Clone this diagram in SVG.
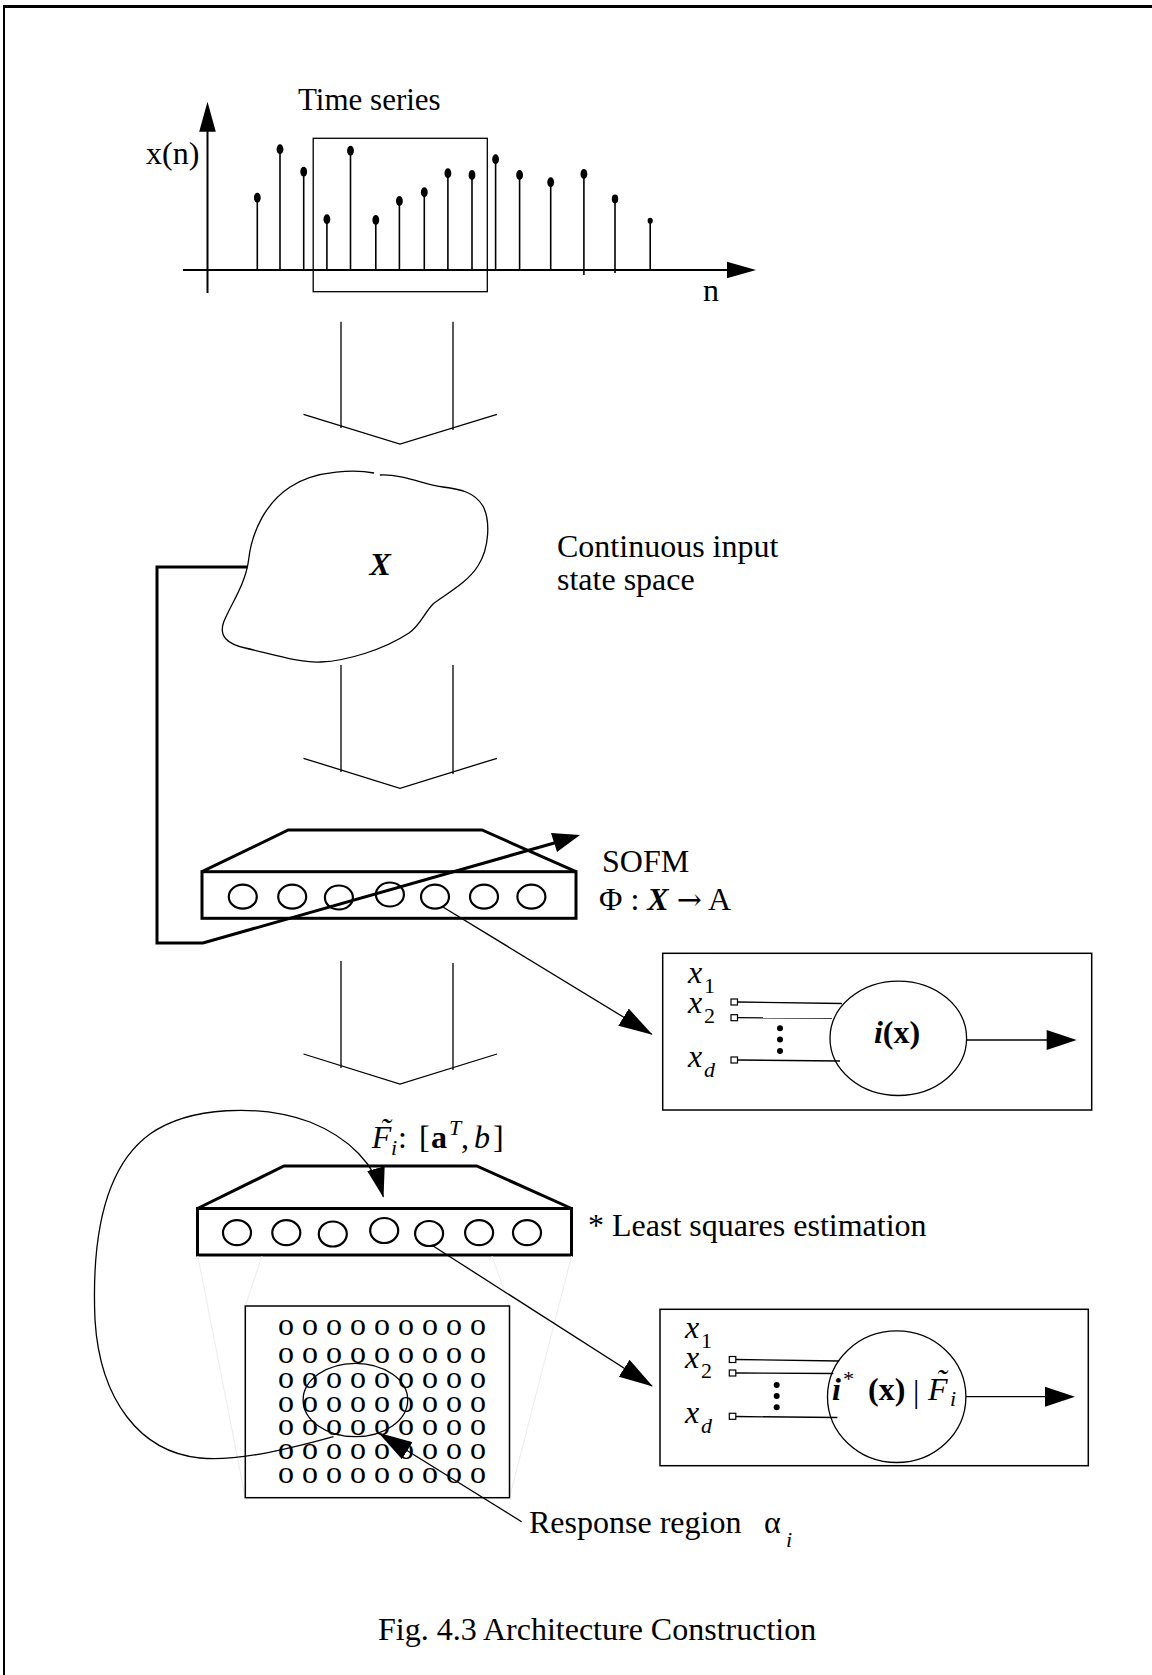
<svg xmlns="http://www.w3.org/2000/svg" width="1152" height="1675" viewBox="0 0 1152 1675">
  <style>
    .t { font-family: "Liberation Serif", "Times New Roman", serif; font-size: 32px; fill: #000; }
    .it { font-style: italic; }
    .b { font-weight: bold; }
    .sm { font-size: 22px; }
    .arr { font-family: "DejaVu Serif", "Liberation Serif", serif; font-size: 30px; }
    .ln { stroke: #000; fill: none; stroke-width: 1.3; }
    .th { stroke: #000; fill: none; stroke-width: 3; }
    .ax { stroke: #000; fill: none; stroke-width: 2; }
    .faint { stroke: #ececec; fill: none; stroke-width: 1; }
    .dot { fill: #000; }
    .unit { fill: #fff; stroke: #000; stroke-width: 1.5; }
    .pin { fill: #fff; stroke: #000; stroke-width: 1.2; }
  </style>
  <defs>
    <marker id="head" viewBox="0 0 34 20" markerWidth="34" markerHeight="20" refX="33" refY="10" orient="auto" markerUnits="userSpaceOnUse">
      <path d="M0,0 L34,10 L0,20 z" fill="#000"/>
    </marker>
    <marker id="headS" viewBox="0 0 30 18" markerWidth="30" markerHeight="18" refX="29" refY="9" orient="auto" markerUnits="userSpaceOnUse">
      <path d="M0,0 L30,9 L0,18 z" fill="#000"/>
    </marker>
  </defs>

  <rect x="0" y="0" width="1152" height="1675" fill="#fff"/>

  <!-- page frame (top and left rules) -->
  <line x1="4" y1="6.5" x2="1152" y2="6.5" stroke="#000" stroke-width="3"/>
  <line x1="4" y1="5" x2="4" y2="1675" stroke="#000" stroke-width="2"/>

  <!-- time series plot -->
  <g id="time-series">
    <text class="t" x="298" y="110" style="font-size:31px">Time series</text>
    <text class="t" x="146" y="164">x(n)</text>
    <text class="t" x="703" y="301">n</text>
    <line class="ax" x1="207.5" y1="128" x2="207.5" y2="293"/>
    <polygon points="207.5,101.7 199.2,131.7 215.8,131.7" fill="#000"/>
    <line class="ax" x1="183" y1="270" x2="730" y2="270"/>
    <polygon points="756,270 727,261.7 727,278.3" fill="#000"/>
    <g stroke="#000" stroke-width="1.6">
      <line x1="257.3" y1="197.7" x2="257.3" y2="270"/>
      <line x1="280" y1="149.3" x2="280" y2="270"/>
      <line x1="303.7" y1="171.7" x2="303.7" y2="270"/>
      <line x1="326.9" y1="219.3" x2="326.9" y2="270"/>
      <line x1="350.5" y1="150.7" x2="350.5" y2="270"/>
      <line x1="375.8" y1="220" x2="375.8" y2="270"/>
      <line x1="399.4" y1="201" x2="399.4" y2="270"/>
      <line x1="424.3" y1="192.3" x2="424.3" y2="270"/>
      <line x1="447.9" y1="173.3" x2="447.9" y2="270"/>
      <line x1="472" y1="175" x2="472" y2="270"/>
      <line x1="495.6" y1="159.3" x2="495.6" y2="270"/>
      <line x1="519.6" y1="175" x2="519.6" y2="270"/>
      <line x1="550.7" y1="182.3" x2="550.7" y2="270"/>
      <line x1="583.9" y1="174" x2="583.9" y2="275"/>
      <line x1="615" y1="199" x2="615" y2="273"/>
      <line x1="650.2" y1="220.7" x2="650.2" y2="270"/>
    </g>
    <g class="dot">
      <ellipse cx="257.3" cy="197.7" rx="3.4" ry="5"/>
      <ellipse cx="280" cy="149.3" rx="3.4" ry="5"/>
      <ellipse cx="303.7" cy="171.7" rx="3.4" ry="5"/>
      <ellipse cx="326.9" cy="219.3" rx="3.4" ry="5"/>
      <ellipse cx="350.5" cy="150.7" rx="3.4" ry="5"/>
      <ellipse cx="375.8" cy="220" rx="3.4" ry="5"/>
      <ellipse cx="399.4" cy="201" rx="3.4" ry="5"/>
      <ellipse cx="424.3" cy="192.3" rx="3.4" ry="5"/>
      <ellipse cx="447.9" cy="173.3" rx="3.4" ry="5"/>
      <ellipse cx="472" cy="175" rx="3.4" ry="5"/>
      <ellipse cx="495.6" cy="159.3" rx="3.4" ry="5"/>
      <ellipse cx="519.6" cy="175" rx="3.4" ry="5"/>
      <ellipse cx="550.7" cy="182.3" rx="3.4" ry="5"/>
      <ellipse cx="583.9" cy="174" rx="3.4" ry="5"/>
      <ellipse cx="615" cy="199" rx="3.2" ry="4.4"/>
      <ellipse cx="650.2" cy="220.7" rx="2.6" ry="3"/>
    </g>
    <rect class="ln" x="313.2" y="138.3" width="174.1" height="153.4"/>
  </g>

  <!-- continuous input state space -->
  <g id="state-space">
    <path class="ln" d="M374.1,473 C358.3,470 316.7,469 290.1,487 C266.9,502 251.9,530 248.6,560 C245.3,585 230.3,605 223.7,622 C218.7,636 227,644 245.3,648 C275.2,655 300.1,663 320.9,662 C345.8,661 383.2,650 409,633 C420.6,625 424.8,612 433.1,604 C445.5,594 466.3,584 477.9,566 C489.6,548 490.4,520 482.9,506 C474.6,492 459.7,489 443,487 C424.8,485 404,474 379.9,475"/>
    <text class="t it b" x="369.5" y="575">X</text>
    <text class="t" x="557" y="557">Continuous input</text>
    <text class="t" x="557" y="590">state space</text>
  </g>

  <!-- SOFM layer -->
  <g id="sofm">
    <path class="th" d="M202,871.7 L288.3,830 L482,830 L576,871.7"/>
    <rect class="th" x="202" y="871.7" width="374" height="46.6"/>
    <g class="ln" style="stroke-width:2.2">
      <ellipse cx="242.8" cy="896.7" rx="14" ry="12"/>
      <ellipse cx="292.2" cy="896.7" rx="14" ry="12"/>
      <ellipse cx="338.9" cy="897.5" rx="14" ry="12"/>
      <ellipse cx="389.9" cy="894.5" rx="14" ry="12"/>
      <ellipse cx="435" cy="896.7" rx="14" ry="12"/>
      <ellipse cx="484" cy="896.7" rx="14" ry="12"/>
      <ellipse cx="531.4" cy="896.7" rx="14" ry="12"/>
    </g>
    <text class="t" x="602" y="872">SOFM</text>
    <text class="t" x="599" y="910">Φ : <tspan class="it b">X</tspan> <tspan class="arr">→</tspan> A</text>
  </g>

  <!-- winner unit i(x) -->
  <g id="unit-winner">
    <rect class="unit" x="662.7" y="953.3" width="429" height="156.7"/>
    <text class="t it" x="688" y="983">x</text>
    <text class="t sm" x="704" y="993">1</text>
    <text class="t it" x="688" y="1013">x</text>
    <text class="t sm" x="704" y="1023">2</text>
    <text class="t it" x="688" y="1067">x</text>
    <text class="t sm it" x="704" y="1077">d</text>
    <rect class="pin" x="731" y="999" width="6.5" height="6"/>
    <rect class="pin" x="731" y="1014.7" width="6.5" height="6"/>
    <rect class="pin" x="731" y="1057" width="6.5" height="6"/>
    <line class="ln" x1="737.5" y1="1002" x2="842" y2="1003.5"/>
    <line class="ln" x1="737.5" y1="1017.7" x2="832" y2="1018"/>
    <line class="ln" x1="737.5" y1="1060" x2="840" y2="1061"/>
    <circle class="dot" cx="780" cy="1028.3" r="3"/>
    <circle class="dot" cx="780" cy="1039.5" r="3"/>
    <circle class="dot" cx="780" cy="1051" r="3"/>
    <ellipse class="ln" cx="898.3" cy="1038.3" rx="68.3" ry="57.2"/>
    <text class="t b" x="897" y="1043" text-anchor="middle"><tspan class="it">i</tspan>(x)</text>
    <line class="ln" x1="966.6" y1="1040" x2="1050" y2="1040"/>
    <polygon points="1076.7,1040 1046.7,1030 1046.7,1050" fill="#000"/>
  </g>

  <!-- local model layer -->
  <g id="local-models">
    <text class="t it" x="371.7" y="1148.3">F</text>
    <text class="t it" x="385" y="1140" text-anchor="middle">˜</text>
    <text class="t it sm" x="391" y="1155">i</text>
    <text class="t" x="398" y="1148.3">:</text>
    <text class="t" x="419" y="1148.3">[</text>
    <text class="t b" x="431" y="1148.3">a</text>
    <text class="t it sm" x="449" y="1135">T</text>
    <text class="t" x="461" y="1148.3">,</text>
    <text class="t it" x="474" y="1148.3">b</text>
    <text class="t" x="493" y="1148.3">]</text>
    <path class="th" d="M197.5,1208.5 L284,1166 L476.7,1166 L571.6,1208.5"/>
    <rect class="th" x="197.5" y="1208.5" width="374" height="46.5"/>
    <g class="ln" style="stroke-width:2.2">
      <ellipse cx="237" cy="1232.7" rx="14" ry="12.5"/>
      <ellipse cx="286.3" cy="1232.7" rx="14" ry="12.5"/>
      <ellipse cx="332.8" cy="1234" rx="14" ry="12.5"/>
      <ellipse cx="384.2" cy="1230.5" rx="14" ry="12.5"/>
      <ellipse cx="429.1" cy="1233.5" rx="14" ry="12.5"/>
      <ellipse cx="479.1" cy="1232.7" rx="14" ry="12.5"/>
      <ellipse cx="527" cy="1232.7" rx="14" ry="12.5"/>
    </g>
    <text class="t" x="588" y="1236">* Least squares estimation</text>
  </g>

  <!-- lattice of output units with a response region -->
  <g id="lattice">
    <line class="faint" x1="197.8" y1="1256" x2="245.3" y2="1497.7"/>
    <line class="faint" x1="262" y1="1256" x2="245.3" y2="1306"/>
    <line class="faint" x1="492" y1="1256" x2="509.5" y2="1306"/>
    <line class="faint" x1="571.6" y1="1256" x2="509.5" y2="1497.7"/>
    <rect class="unit" x="245.3" y="1306" width="264.2" height="191.7"/>
    <g class="t">
      <text x="278" y="1335">o o o o o o o o o</text>
      <text x="278" y="1363.3">o o o o o o o o o</text>
      <text x="278" y="1387.7">o o o o o o o o o</text>
      <text x="278" y="1411.7">o o o o o o o o o</text>
      <text x="278" y="1435">o o o o o o o o o</text>
      <text x="278" y="1459.3">o o o o o o o o o</text>
      <text x="278" y="1483.3">o o o o o o o o o</text>
    </g>
    <ellipse class="ln" cx="355.4" cy="1400" rx="52.3" ry="36.7"/>
    <text class="t" x="529" y="1533">Response region</text>
    <text class="t" x="764" y="1533">α</text>
    <text class="t it sm" x="786" y="1547">i</text>
  </g>

  <!-- fitted unit i*(x) | F_i -->
  <g id="unit-fitted">
    <rect class="unit" x="660" y="1309.3" width="428.3" height="156.4"/>
    <text class="t it" x="685" y="1338.3">x</text>
    <text class="t sm" x="701" y="1348.3">1</text>
    <text class="t it" x="685" y="1368.3">x</text>
    <text class="t sm" x="701" y="1378.3">2</text>
    <text class="t it" x="685" y="1423.3">x</text>
    <text class="t sm it" x="701" y="1433.3">d</text>
    <rect class="pin" x="729.3" y="1356.5" width="6.5" height="6"/>
    <rect class="pin" x="729.3" y="1370" width="6.5" height="6"/>
    <rect class="pin" x="729.3" y="1413.3" width="6.5" height="6"/>
    <line class="ln" x1="735.8" y1="1359.5" x2="839.3" y2="1361"/>
    <line class="ln" x1="735.8" y1="1373" x2="833.3" y2="1373.5"/>
    <line class="ln" x1="735.8" y1="1416.5" x2="837.3" y2="1417.5"/>
    <circle class="dot" cx="776.7" cy="1385" r="3"/>
    <circle class="dot" cx="776.7" cy="1396" r="3"/>
    <circle class="dot" cx="776.7" cy="1407.3" r="3"/>
    <ellipse class="ln" cx="896.7" cy="1396.7" rx="69.2" ry="65.8"/>
    <text class="t it b" x="832" y="1400">i</text>
    <text class="t it sm" x="842" y="1386">*</text>
    <text class="t b" x="868" y="1400">(x)</text>
    <text class="t" x="913" y="1402">|</text>
    <text class="t it" x="928" y="1400">F</text>
    <text class="t it" x="941" y="1391" text-anchor="middle">˜</text>
    <text class="t it sm" x="950" y="1406">i</text>
    <line class="ln" x1="966" y1="1396.7" x2="1048" y2="1396.7"/>
    <polygon points="1075,1396.7 1045,1386.7 1045,1406.7" fill="#000"/>
  </g>

  <!-- connectors -->
  <g id="connectors">
    <!-- process arrows between stages -->
    <g class="ln">
      <line x1="341" y1="321.7" x2="341" y2="428"/>
      <line x1="453" y1="321.7" x2="453" y2="430"/>
      <polyline points="303.5,414.3 400,444 497,414.3"/>
      <line x1="341" y1="665" x2="341" y2="772"/>
      <line x1="453" y1="665" x2="453" y2="774"/>
      <polyline points="303.5,758.3 400,788.3 497,758.3"/>
      <line x1="341" y1="961" x2="341" y2="1068"/>
      <line x1="453" y1="963" x2="453" y2="1070"/>
      <polyline points="303.5,1054 400,1084 497,1054"/>
    </g>
    <!-- input fed back into the map -->
    <polyline class="th" points="247.5,567 157,567 157,943 203,943 556,842.5"/>
    <polygon points="580,835 551,833 557,852" fill="#000"/>
    <!-- winning neuron to its unit -->
    <line class="ln" x1="442.5" y1="906.7" x2="651.7" y2="1034.3" marker-end="url(#head)"/>
    <line class="ln" x1="431.6" y1="1245" x2="652" y2="1386" marker-end="url(#head)"/>
    <!-- response region loop back to the layer -->
    <path class="ln" d="M333.5,1436.7 C300,1446 240,1462 200,1458 C140,1452 100,1400 95,1320 C92,1250 100,1170 150,1134 C190,1106 260,1104 310,1122 C350,1138 375,1165 383.3,1196.7" marker-end="url(#headS)"/>
    <!-- label pointer to the response region -->
    <line class="ln" x1="521.6" y1="1521.7" x2="379.2" y2="1433.3" marker-end="url(#head)"/>
  </g>

  <text class="t" x="378" y="1640">Fig. 4.3 Architecture Construction</text>
</svg>
